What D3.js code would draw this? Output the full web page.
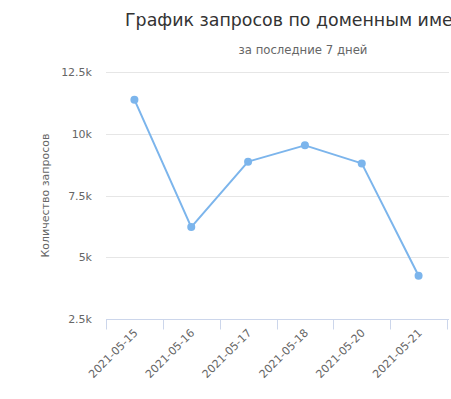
<!DOCTYPE html>
<html>
<head>
<meta charset="utf-8">
<script src="https://cdn.jsdelivr.net/npm/d3@7"></script>
<style>
  body { margin: 0; background: #fff; }
  svg { display: block; font-family: "DejaVu Sans", Verdana, sans-serif; }
</style>
</head>
<body>
<div class="chart"></div>
<script>
// data
const days = ["2021-05-15", "2021-05-16", "2021-05-17", "2021-05-18", "2021-05-20", "2021-05-21"];
const requests = [11380, 6220, 8870, 9530, 8800, 4250];
const yTicks = [2500, 5000, 7500, 10000, 12500];

const titleText = "График запросов по доменным именам";
const subtitleText = "за последние 7 дней";
const yTitle = "Количество запросов";

const width = 451, height = 399;
const margin = {top: 72, right: 4, bottom: 80, left: 106};

const svg = d3.select(".chart").append("svg")
    .attr("width", width)
    .attr("height", height);

const x = d3.scaleBand()
    .domain(days)
    .range([margin.left, width - margin.right]);

const y = d3.scaleLinear()
    .domain([2500, 12500])
    .range([height - margin.bottom, margin.top]);

// gridlines
svg.append("g")
  .selectAll("line")
  .data(yTicks.filter(d => d > 2500))
  .join("line")
    .attr("x1", margin.left)
    .attr("x2", width - margin.right + 2)
    .attr("y1", d => Math.round(y(d)) + 0.5)
    .attr("y2", d => Math.round(y(d)) + 0.5)
    .attr("stroke", "#e6e6e6");

// y labels
svg.append("g")
  .selectAll("text")
  .data(yTicks)
  .join("text")
    .attr("x", 92)
    .attr("y", d => y(d) + 4)
    .attr("text-anchor", "end")
    .attr("fill", "#666")
    .attr("font-size", 11)
    .text(d => d3.format("~")(d / 1000) + "k");

// y title
svg.append("text")
    .attr("transform", `translate(49,${(margin.top + height - margin.bottom) / 2}) rotate(-90)`)
    .attr("text-anchor", "middle")
    .attr("fill", "#666")
    .attr("font-size", 11)
    .text(yTitle);

// x axis
const xAxis = svg.append("g")
    .attr("transform", `translate(0,${Math.round(y(2500)) + 0.5})`);
xAxis.append("line")
    .attr("x1", margin.left)
    .attr("x2", width - margin.right + 2)
    .attr("stroke", "#ccd6eb");
const bounds = days.map(d => x(d)).concat([x(days[days.length - 1]) + x.bandwidth()]);
xAxis.selectAll(".tick")
  .data(bounds)
  .join("line")
    .attr("class", "tick")
    .attr("x1", d => Math.round(d) + 0.5)
    .attr("x2", d => Math.round(d) + 0.5)
    .attr("y1", 0)
    .attr("y2", 10)
    .attr("stroke", "#ccd6eb");
xAxis.selectAll(".lbl")
  .data(days)
  .join("text")
    .attr("class", "lbl")
    .attr("transform", d => `translate(${x(d) + x.bandwidth() / 2 + 4},14) rotate(-45)`)
    .attr("text-anchor", "end")
    .attr("fill", "#666")
    .attr("font-size", 11)
    .text(d => d);

// line + markers
const line = d3.line()
    .x((d, i) => x(days[i]) + x.bandwidth() / 2)
    .y(d => y(d));

svg.append("path")
    .datum(requests)
    .attr("fill", "none")
    .attr("stroke", "#7cb5ec")
    .attr("stroke-width", 2)
    .attr("stroke-linejoin", "round")
    .attr("d", line);

svg.append("g")
  .selectAll("circle")
  .data(requests)
  .join("circle")
    .attr("cx", (d, i) => x(days[i]) + x.bandwidth() / 2)
    .attr("cy", d => y(d))
    .attr("r", 4)
    .attr("fill", "#7cb5ec");

// titles (the chart is wider than the window, so the title runs off the right edge)
svg.append("text")
    .attr("x", 125)
    .attr("y", 26)
    .attr("fill", "#333")
    .attr("font-size", 17.4)
    .text(titleText);

svg.append("text")
    .attr("x", 303)
    .attr("y", 54)
    .attr("text-anchor", "middle")
    .attr("fill", "#666")
    .attr("font-size", 11.7)
    .text(subtitleText);
</script>
</body>
</html>
